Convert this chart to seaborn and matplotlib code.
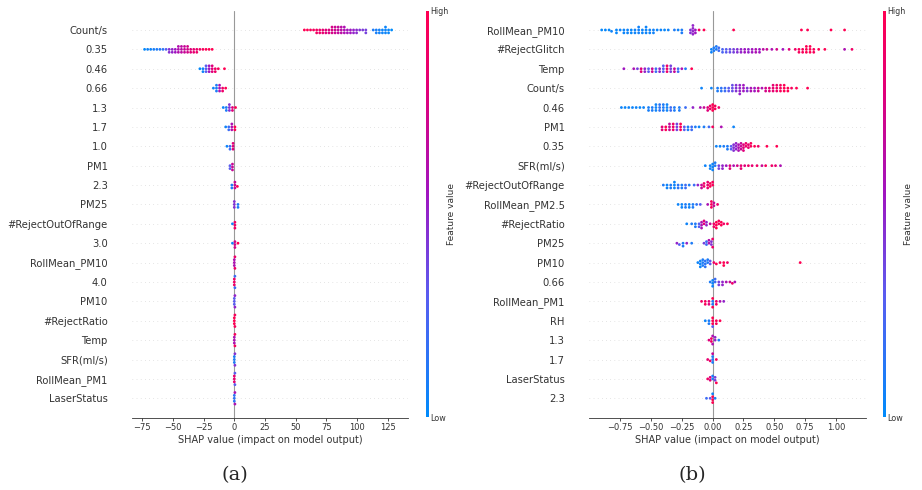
import numpy as np
import pandas as pd
import seaborn as sns
import matplotlib
matplotlib.use("Agg")
import matplotlib.pyplot as plt
from matplotlib.colors import LinearSegmentedColormap, Normalize
from matplotlib.cm import ScalarMappable

# feature order, top to bottom
features_a = ["Count/s", "0.35", "0.46", "0.66", "1.3", "1.7", "1.0", "PM1", "2.3", "PM25",
              "#RejectOutOfRange", "3.0", "RollMean_PM10", "4.0", "PM10", "#RejectRatio",
              "Temp", "SFR(ml/s)", "RollMean_PM1", "LaserStatus"]
features_b = ["RollMean_PM10", "#RejectGlitch", "Temp", "Count/s", "0.46", "PM1", "0.35",
              "SFR(ml/s)", "#RejectOutOfRange", "RollMean_PM2.5", "#RejectRatio", "PM25",
              "PM10", "0.66", "RollMean_PM1", "RH", "1.3", "1.7", "LaserStatus", "2.3"]

# per feature: (shap value, number of points, feature value 0=low..1=high)
clusters_a = [
    [(57, 1, 1.0), (59.5, 1, 1.0), (62, 1, .95), (64.5, 1, .95), (67, 2, .92), (69.5, 2, .88),
     (72, 2, .85), (74.5, 2, .8), (77, 2, .78), (79.5, 3, .75), (82, 3, .72), (84.5, 3, .68),
     (87, 3, .65), (89.5, 3, .6), (92, 2, .57), (94.5, 2, .55), (97, 2, .5), (99.5, 2, .47),
     (102, 1, .44), (104.5, 1, .42), (107, 2, .4), (113, 1, .1), (115.5, 2, .08), (118, 2, .06),
     (120.5, 2, .05), (123, 3, .04), (125.5, 2, .03), (128, 1, 0.0)],
    [(-73, 1, .02), (-70.5, 1, .05), (-68, 1, .05), (-65.5, 1, .08), (-63, 1, .1), (-60.5, 1, .12),
     (-58, 1, .15), (-55.5, 1, .3), (-53, 2, .45), (-50.5, 2, .5), (-48, 2, .55), (-45.5, 3, .62),
     (-43, 3, .66), (-40.5, 3, .7), (-38, 3, .74), (-35.5, 2, .8), (-33, 2, .85), (-30.5, 2, .88),
     (-28, 1, .9), (-25.5, 1, .95), (-23, 1, 1.0), (-20.5, 1, 1.0), (-18, 1, 1.0)],
    [(-28, 1, .02), (-25.5, 2, .05), (-23, 3, .3), (-20.5, 3, .55), (-18, 3, .8), (-15.5, 2, .9),
     (-13, 1, .95), (-8, 1, 1.0)],
    [(-17, 1, .05), (-14.5, 3, .1), (-12, 3, .6), (-9.5, 2, .9), (-7, 1, 1.0)],
    [(-9, 1, .05), (-6.5, 2, .1), (-4, 3, .45), (-1.5, 2, .8), (1, 1, 1.0)],
    [(-7, 1, .05), (-4.5, 2, .2), (-2, 3, .6), (0.5, 2, 1.0)],
    [(-6, 1, .05), (-3.5, 2, .2), (-1, 3, .8)],
    [(-3.5, 2, .3), (-1.5, 3, .7)],
    [(-2, 2, .1), (0.5, 3, .7), (2.5, 1, 1.0)],
    [(0, 3, .45), (3, 2, .1)],
    [(-1.5, 1, .05), (0.5, 3, .9)],
    [(-1.5, 1, .05), (0.5, 3, .75), (3, 1, 1.0)],
    [(0, 3, .6), (0.5, 2, .9)],
    [(0, 3, .9), (0.5, 2, .2)],
    [(0, 3, .3), (0.5, 2, .5)],
    [(0, 3, 1.0), (0.5, 2, .95)],
    [(0, 3, .6), (0.5, 2, .95)],
    [(0, 3, .1), (0.5, 2, .45)],
    [(0, 3, .85), (0.5, 2, .3)],
    [(0, 3, .15), (0.5, 2, .6)],
]

clusters_b = [
    [(-.90, 1, .02), (-.87, 1, .03), (-.84, 1, .02), (-.82, 1, .05), (-.78, 2, .03), (-.75, 1, .05),
     (-.72, 2, .04), (-.69, 2, .05), (-.66, 2, .03), (-.63, 2, .05), (-.60, 3, .06), (-.57, 2, .04),
     (-.54, 3, .05), (-.51, 2, .05), (-.48, 2, .06), (-.45, 1, .04), (-.42, 1, .05), (-.39, 1, .03),
     (-.36, 1, .05), (-.31, 1, .1), (-.28, 1, .05), (-.25, 2, .1), (-.18, 2, .45), (-.16, 4, .5),
     (-.14, 2, .55), (-.11, 1, .9), (-.07, 1, 1.0), (.17, 1, 1.0), (.72, 1, 1.0), (.77, 1, 1.0),
     (.96, 1, 1.0), (1.07, 1, 1.0)],
    [(-.01, 2, .05), (.01, 2, .1), (.03, 2, .1), (.05, 2, .2), (.08, 2, .25), (.11, 2, .3),
     (.14, 2, .35), (.17, 2, .4), (.20, 2, .45), (.23, 2, .5), (.26, 2, .55), (.29, 2, .5),
     (.32, 2, .55), (.35, 2, .6), (.38, 2, .55), (.41, 1, .65), (.44, 1, .7), (.48, 1, .6),
     (.52, 1, .75), (.57, 1, .55), (.62, 1, .8), (.67, 1, .9), (.70, 2, .95), (.73, 2, .95),
     (.76, 3, 1.0), (.79, 3, 1.0), (.82, 2, .95), (.86, 1, 1.0), (.91, 1, 1.0), (1.07, 1, .6),
     (1.13, 1, .9)],
    [(-.72, 1, .55), (-.64, 1, .6), (-.61, 1, .4), (-.58, 2, .8), (-.55, 2, .5), (-.52, 2, .3),
     (-.49, 2, .7), (-.46, 2, .2), (-.43, 2, .5), (-.40, 3, .3), (-.37, 3, .9), (-.34, 3, .4),
     (-.31, 2, .7), (-.28, 2, .2), (-.25, 1, .6), (-.22, 1, .1), (-.17, 1, 1.0)],
    [(-.09, 1, .05), (-.01, 1, .05), (.04, 2, .1), (.07, 2, .15), (.10, 2, .2), (.13, 2, .3),
     (.16, 3, .35), (.19, 3, .45), (.22, 4, .5), (.25, 3, .55), (.28, 2, .45), (.31, 2, .6),
     (.34, 2, .55), (.37, 2, .7), (.40, 1, .6), (.43, 2, .75), (.46, 2, .8), (.49, 3, .85),
     (.52, 3, .9), (.55, 3, .95), (.58, 3, 1.0), (.61, 2, 1.0), (.64, 1, .95), (.68, 1, 1.0),
     (.77, 1, 1.0)],
    [(-.74, 1, .05), (-.71, 1, .03), (-.68, 1, .05), (-.65, 1, .04), (-.62, 1, .05), (-.59, 1, .03),
     (-.56, 1, .05), (-.52, 2, .08), (-.49, 2, .1), (-.46, 3, .05), (-.43, 3, .15), (-.40, 3, .1),
     (-.37, 3, .05), (-.34, 2, .2), (-.31, 2, .1), (-.27, 2, .1), (-.22, 1, .2), (-.16, 1, .5),
     (-.10, 1, .6), (-.07, 1, .7), (-.04, 2, .8), (-.02, 2, .9), (0.0, 3, 1.0), (.02, 2, .95),
     (.05, 1, .9)],
    [(-.41, 2, .8), (-.38, 2, 1.0), (-.35, 3, .7), (-.32, 3, .9), (-.29, 3, .4), (-.26, 3, 1.0),
     (-.23, 2, .3), (-.20, 2, .1), (-.17, 2, .2), (-.14, 1, .1), (-.11, 1, .05), (-.07, 1, .1),
     (-.03, 1, .2), (0.0, 1, .95), (.07, 1, .6), (.17, 1, .05)],
    [(.03, 1, .05), (.06, 1, .05), (.09, 1, .1), (.12, 2, .1), (.15, 2, .3), (.17, 3, .45),
     (.19, 3, .5), (.21, 3, .6), (.23, 3, .7), (.25, 3, .8), (.27, 2, .9), (.29, 2, .85),
     (.31, 2, .95), (.34, 1, 1.0), (.37, 1, .9), (.44, 1, 1.0), (.52, 1, 1.0)],
    [(-.06, 1, .05), (-.02, 2, .05), (0.0, 3, .05), (.02, 2, .1), (.05, 2, .4), (.08, 2, .5),
     (.11, 1, .55), (.14, 2, .8), (.17, 1, .6), (.20, 1, .75), (.23, 2, .85), (.26, 1, .8),
     (.29, 1, .9), (.32, 1, .85), (.36, 1, .9), (.40, 1, .7), (.43, 1, .95), (.48, 1, .9),
     (.51, 1, .85), (.55, 1, .6)],
    [(-.40, 1, .1), (-.37, 2, .05), (-.34, 2, .1), (-.31, 3, .05), (-.28, 2, .15), (-.25, 2, .1),
     (-.22, 2, .2), (-.19, 1, .1), (-.15, 1, .2), (-.12, 1, .5), (-.09, 2, .7), (-.07, 2, .9),
     (-.04, 3, .85), (-.02, 2, 1.0), (0.0, 2, .95)],
    [(-.28, 1, .05), (-.25, 2, .05), (-.22, 2, .1), (-.19, 2, .05), (-.16, 2, .1), (-.13, 1, .15),
     (-.10, 1, .3), (-.04, 1, .6), (-.01, 3, .95), (.01, 2, .7), (.04, 1, .9)],
    [(-.21, 1, .05), (-.17, 1, .1), (-.14, 2, .1), (-.11, 2, .3), (-.09, 3, .6), (-.07, 2, .8),
     (-.05, 2, .5), (-.02, 1, .7), (.01, 2, .9), (.03, 3, 1.0), (.05, 2, .95), (.07, 2, 1.0),
     (.09, 1, .9), (.12, 1, 1.0)],
    [(-.29, 1, .5), (-.27, 1, .3), (-.24, 2, .1), (-.21, 1, .5), (-.17, 1, .1), (-.07, 1, .4),
     (-.05, 2, .2), (-.03, 2, .6), (-.01, 2, .45), (0.0, 2, .9)],
    [(-.12, 1, .05), (-.10, 3, .05), (-.08, 3, .1), (-.06, 3, .15), (-.04, 2, .1), (-.02, 2, .3),
     (.01, 1, .9), (.03, 1, 1.0), (.06, 1, .95), (.09, 2, 1.0), (.12, 1, .9), (.71, 1, 1.0)],
    [(-.02, 1, .1), (0.0, 3, .05), (.02, 2, .2), (.05, 2, .4), (.08, 2, .5), (.11, 1, .6),
     (.14, 1, .7), (.16, 1, .9), (.18, 1, .6)],
    [(-.09, 1, .9), (-.06, 2, .95), (-.03, 2, .8), (0.0, 2, .1), (0.0, 2, 1.0), (.03, 2, .9),
     (.06, 1, .6), (.09, 1, .5)],
    [(-.06, 1, .05), (-.03, 2, .1), (0.0, 3, 1.0), (0.0, 1, .3), (.03, 2, .95), (.06, 1, 1.0)],
    [(-.03, 1, .8), (-.01, 2, .9), (0.0, 2, .6), (.02, 2, .5), (.05, 1, .1)],
    [(-.04, 1, .85), (-.02, 1, .9), (0.0, 3, .1), (0.0, 1, .7), (.03, 1, .95)],
    [(-.04, 1, .9), (-.02, 2, .8), (0.0, 2, .1), (.02, 2, .4), (.03, 1, 1.0)],
    [(-.05, 1, .2), (-.02, 1, .3), (0.0, 3, 1.0), (0.0, 1, .05), (.02, 1, .1)],
]

xticks_a = [-75, -50, -25, 0, 25, 50, 75, 100, 125]
xticks_b = [-0.75, -0.50, -0.25, 0.00, 0.25, 0.50, 0.75, 1.00]

shap_cmap = LinearSegmentedColormap.from_list(
    "shap_red_blue",
    [(0.0, "#008bfb"), (0.3, "#5a5cf0"), (0.55, "#a015c0"), (0.8, "#e0007a"), (1.0, "#ff0052")])
TXT = "#333333"


def to_frame(features, clusters):
    rows = []
    for name, cl in zip(features, clusters):
        for x, n, c in cl:
            rows += [(name, x, c)] * n
    return pd.DataFrame(rows, columns=["feature", "shap", "fval"])


def draw_panel(ax, cax, features, clusters, xlim, xticks):
    df = to_frame(features, clusters)
    sns.swarmplot(data=df, x="shap", y="feature", hue="fval", order=features,
                  palette=shap_cmap, hue_norm=(0, 1), size=2.0, linewidth=0,
                  legend=False, warn_thresh=1, ax=ax, zorder=3)
    n = len(features)
    for i in range(n):
        ax.axhline(i, color="#cccccc", lw=0.5, dashes=(1, 5), zorder=-1)
    ax.axvline(0, color="#999999", lw=0.8, zorder=-1)
    ax.set_xlim(*xlim)
    ax.set_ylim(n, -1)
    ax.set_xticks(xticks)
    ax.set_ylabel("")
    ax.set_xlabel("SHAP value (impact on model output)", fontsize=7, color=TXT, labelpad=2)
    for s in ["top", "right", "left"]:
        ax.spines[s].set_visible(False)
    ax.spines["bottom"].set_color(TXT)
    ax.spines["bottom"].set_linewidth(0.6)
    ax.tick_params(axis="y", left=False, labelsize=7.2, labelcolor=TXT, pad=14)
    ax.tick_params(axis="x", bottom=True, length=2.5, width=0.6, color=TXT,
                   labelsize=6.0, labelcolor=TXT, pad=1.5)

    cb = plt.colorbar(ScalarMappable(norm=Normalize(0, 1), cmap=shap_cmap), cax=cax)
    cb.set_ticks([0, 1])
    cb.set_ticklabels(["Low", "High"])
    cb.ax.tick_params(length=0, labelsize=5.8, labelcolor=TXT, pad=1)
    cb.set_label("Feature value", size=6.5, color=TXT, labelpad=-1)
    cb.outline.set_visible(False)


sns.set_style("white")
plt.rcParams["font.family"] = ["DejaVu Sans"]

fig = plt.figure(figsize=(9.22, 4.9), dpi=100)
ax_a = fig.add_axes([0.1432, 0.1476, 0.2993, 0.8308])
cax_a = fig.add_axes([426 / 922, 1 - 417 / 490, 2.6 / 922, 406 / 490])
ax_b = fig.add_axes([0.6388, 0.1476, 0.3001, 0.8308])
cax_b = fig.add_axes([883 / 922, 1 - 417 / 490, 2.6 / 922, 406 / 490])

draw_panel(ax_a, cax_a, features_a, clusters_a, (-83.2, 141.3), xticks_a)
draw_panel(ax_b, cax_b, features_b, clusters_b, (-1.003, 1.241), xticks_b)

fig.text(235 / 922, 1 - 475 / 490, "(a)", ha="center", va="center", fontsize=14,
         family="DejaVu Serif")
fig.text(692 / 922, 1 - 475 / 490, "(b)", ha="center", va="center", fontsize=14,
         family="DejaVu Serif")

fig.savefig("out.png", dpi=100)
